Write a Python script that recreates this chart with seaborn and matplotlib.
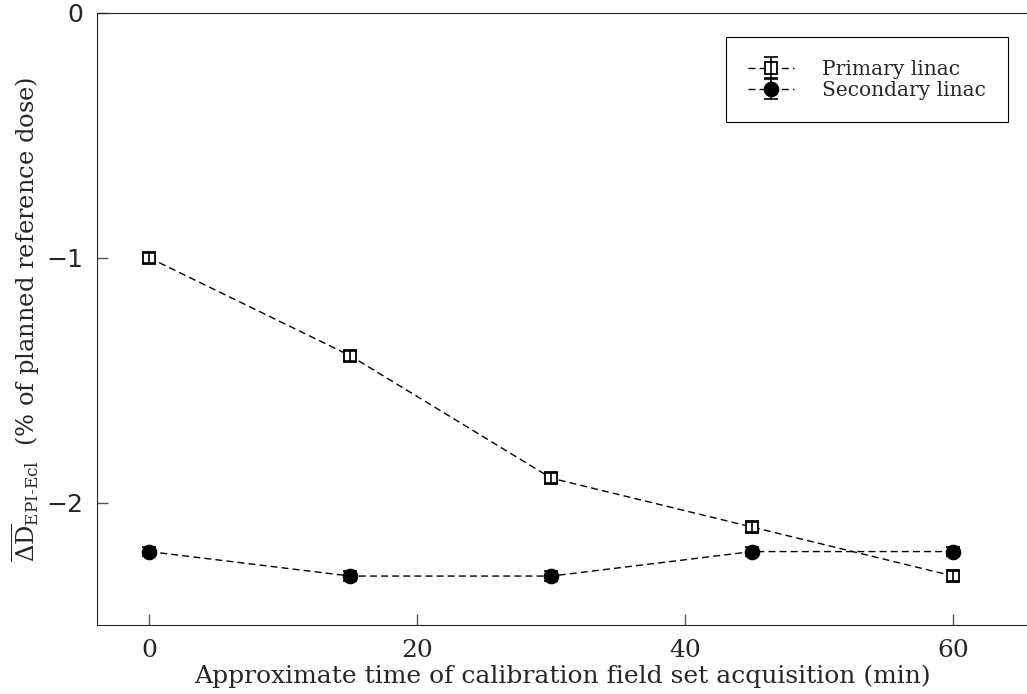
import numpy as np
import pandas as pd
import seaborn as sns
import matplotlib.pyplot as plt
from matplotlib.legend_handler import HandlerTuple

sns.set_style('ticks')
plt.rcParams['font.family'] = ['DejaVu Serif']
plt.rcParams['mathtext.fontset'] = 'dejavuserif'
plt.rcParams['xtick.direction'] = 'in'
plt.rcParams['ytick.direction'] = 'in'

# data
times = [0, 15, 30, 45, 60]
primary = [-1.0, -1.4, -1.9, -2.1, -2.3]
secondary = [-2.2, -2.3, -2.3, -2.2, -2.2]
primary_err = [0.02, 0.02, 0.02, 0.02, 0.02]
secondary_err = [0.02, 0.02, 0.02, 0.02, 0.02]

df = pd.DataFrame({
    'time': times * 2,
    'dose': primary + secondary,
    'linac': ['Primary linac'] * 5 + ['Secondary linac'] * 5,
})

fig = plt.figure(figsize=(10.27, 6.94), dpi=100)
ax = fig.add_axes([0.0944, 0.0994, 0.9056, 0.8819])

sns.lineplot(data=df, x='time', y='dose', hue='linac', style='linac',
             palette=['black', 'black'], markers=['s', 'o'],
             dashes=[(5, 3), (5, 3)], linewidth=1.0, legend=False, ax=ax)
l1, l2 = ax.lines[0], ax.lines[1]
l1.set_markersize(9)
l1.set_markerfacecolor('white')
l1.set_markeredgecolor('black')
l1.set_markeredgewidth(1.3)
l2.set_markersize(10.5)
l2.set_markerfacecolor('black')
l2.set_markeredgecolor('black')

eb1 = ax.errorbar(times, primary, yerr=primary_err, fmt='none', ecolor='black',
                  elinewidth=1.2, capsize=5, capthick=1.2, zorder=3)
eb2 = ax.errorbar(times, secondary, yerr=secondary_err, fmt='none', ecolor='black',
                  elinewidth=1.2, capsize=5, capthick=1.2, zorder=3)

ax.set_xlim(-3.9, 65.5)
ax.set_ylim(-2.5, 0)
ax.set_xticks([0, 20, 40, 60])
ax.set_yticks([0, -1, -2])
ax.tick_params(direction='in', length=8, width=1, color='#555555', labelsize=18, pad=10)
for lab in ax.get_yticklabels():
    lab.set_family('DejaVu Sans')

ax.spines['right'].set_visible(False)
ax.spines['top'].set_linestyle((0, (2, 1)))
ax.spines['top'].set_linewidth(0.8)

ax.set_xlabel('Approximate time of calibration field set acquisition (min)', fontsize=18, labelpad=2)
ax.set_ylabel(r'$\overline{\Delta\mathrm{D}}_{\mathrm{EPI\text{-}Ecl}}$  (% of planned reference dose)',
              fontsize=17.4, labelpad=3)

leg = ax.legend([(l1, eb1), (l2, eb2)], ['Primary linac', 'Secondary linac'],
                handler_map={tuple: HandlerTuple(ndivide=1)},
                loc='upper right', bbox_to_anchor=(0.98, 0.96), fontsize=14.5,
                fancybox=False, edgecolor='black', framealpha=1,
                handlelength=2.3, handletextpad=1.4, borderpad=1.1, labelspacing=0.1,
                borderaxespad=0)
leg.get_frame().set_linewidth(0.8)

fig.savefig('out.png', dpi=100)
